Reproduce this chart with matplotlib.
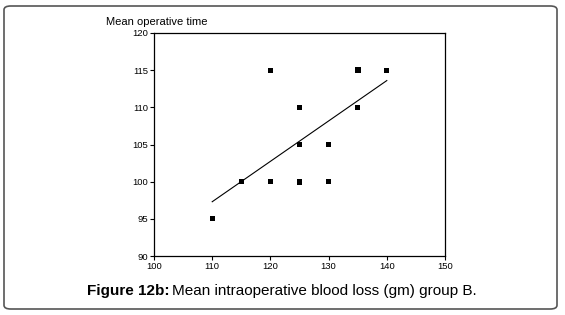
import matplotlib
matplotlib.use("Agg")
import matplotlib.pyplot as plt
from matplotlib.patches import FancyBboxPatch

plt.rcParams['font.family'] = ['Liberation Sans', 'DejaVu Sans']

# blood loss (x) vs operative time (y), group B
blood_loss = [110, 115, 120, 120, 125, 125, 125, 130, 130, 135, 135, 140]
op_time = [95, 100, 100, 115, 100, 105, 110, 100, 105, 110, 115, 115]
marker_size = [12, 14, 12, 12, 18, 18, 14, 12, 12, 12, 18, 12]

# regression line ends
fit_x = [110, 140]
fit_y = [97.3, 113.6]

x_ticks = [100, 110, 120, 130, 140, 150]
y_ticks = [90, 95, 100, 105, 110, 115, 120]

fig = plt.figure(figsize=(5.65, 3.15), dpi=100)

border = FancyBboxPatch((4 / 565, 6 / 315), 553 / 565, 303 / 315,
                        boxstyle="round,pad=0,rounding_size=0.012",
                        transform=fig.transFigure, fill=False,
                        edgecolor="#555555", linewidth=1.2)
fig.patches.append(border)

ax = fig.add_axes([154 / 565, 1 - 256 / 315, 291 / 565, 223 / 315])
ax.scatter(blood_loss, op_time, marker="s", s=marker_size, color="black",
           linewidths=0, zorder=3)
ax.plot(fit_x, fit_y, color="black", linewidth=0.8)

ax.set_xlim(100, 150)
ax.set_ylim(90, 120)
ax.set_xticks(x_ticks)
ax.set_yticks(y_ticks)
ax.tick_params(axis="both", labelsize=6.8, length=3, width=0.8, pad=1)
for side in ax.spines.values():
    side.set_linewidth(0.9)

fig.text(106 / 565, 1 - 22 / 315, "Mean operative time", fontsize=8,
         va="center", ha="left")

# caption: bold label followed by normal text
cap_y = 1 - 291 / 315
bold = fig.text(87 / 565, cap_y, "Figure 12b:", fontsize=11, fontweight="bold",
                ha="left", va="center")
renderer = fig.canvas.get_renderer()
bb = bold.get_window_extent(renderer)
fig.text(bb.x1 / fig.bbox.width + 3 / 565, cap_y,
         "Mean intraoperative blood loss (gm) group B.",
         fontsize=11, ha="left", va="center")

fig.savefig("out.png", dpi=100)
